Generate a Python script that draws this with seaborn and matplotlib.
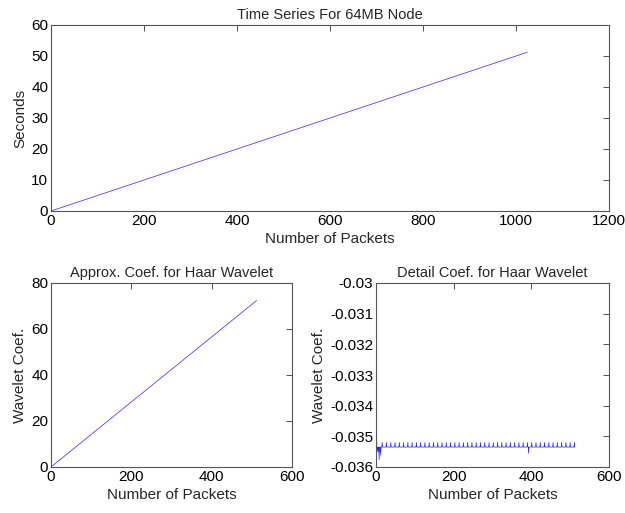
import numpy as np
import pandas as pd
import matplotlib
matplotlib.use("Agg")
import matplotlib.pyplot as plt
import seaborn as sns

# ---- data ----
time_x = [1, 1024]
time_y = [0.05, 51.2]

approx_x = [1, 512]
approx_y = [0.14, 72.4]

detail_n = 512
detail_base = -0.03535
detail_start = -0.0340
spike_x = [16, 27, 38, 49, 60, 71, 82, 93, 104, 115, 126, 137, 148, 159, 170,
           181, 192, 203, 214, 225, 236, 247, 258, 269, 280, 291, 302, 313, 324,
           335, 346, 357, 368, 379, 390, 401, 412, 423, 434, 445, 456, 467, 478,
           489, 500, 511]
spike_y = -0.03520
dip_x = [3, 5, 8, 10, 12, 393]
dip_y = [-0.03545, -0.03552, -0.03576, -0.03548, -0.03562, -0.03555]

titles = ["Time Series For 64MB Node", "Approx. Coef. for Haar Wavelet",
          "Detail Coef. for Haar Wavelet"]
xlabels = ["Number of Packets", "Number of Packets", "Number of Packets"]
ylabels = ["Seconds", "Wavelet Coef.", "Wavelet Coef."]

# ---- build detail series ----
special = {x: spike_y for x in spike_x}
for x, y in zip(dip_x, dip_y):
    special[x] = y
special[1] = detail_start
dx = list(range(1, detail_n + 1))
dy = [special.get(x, detail_base) for x in dx]

sns.set_style("white")
plt.rcParams['font.family'] = ['Liberation Sans', 'DejaVu Sans']

fig = plt.figure(figsize=(6.25, 5.13), dpi=100)
W, H = 625, 513
ax1 = fig.add_axes([51 / W, 1 - 211 / H, 558 / W, 186 / H])
ax2 = fig.add_axes([51 / W, 1 - 467 / H, 241 / W, 184 / H])
ax3 = fig.add_axes([376 / W, 1 - 467 / H, 233 / W, 184 / H])

line_kw = dict(color="#2828ff", linewidth=0.5)
sns.lineplot(x=time_x, y=time_y, ax=ax1, **line_kw)
sns.lineplot(x=approx_x, y=approx_y, ax=ax2, **line_kw)
sns.lineplot(x=dx, y=dy, ax=ax3, **line_kw)

ax1.set_xlim(0, 1200); ax1.set_ylim(0, 60)
ax1.set_xticks(range(0, 1201, 200)); ax1.set_yticks(range(0, 61, 10))
ax2.set_xlim(0, 600); ax2.set_ylim(0, 80)
ax2.set_xticks(range(0, 601, 200)); ax2.set_yticks(range(0, 81, 20))
ax3.set_xlim(0, 600); ax3.set_ylim(-0.036, -0.030)
ax3.set_xticks(range(0, 601, 200))
ax3.set_yticks([-0.036, -0.035, -0.034, -0.033, -0.032, -0.031, -0.030])
ax3.set_yticklabels(["-0.036", "-0.035", "-0.034", "-0.033", "-0.032", "-0.031", "-0.03"])

for ax, t, xl, yl in zip([ax1, ax2, ax3], titles, xlabels, ylabels):
    ax.set_title(t, fontsize=10.5, pad=4)
    ax.set_xlabel(xl, fontsize=11, labelpad=3)
    ax.set_ylabel(yl, fontsize=11, labelpad=3)
    ax.tick_params(direction="in", top=True, right=True, length=4, width=0.6,
                   labelsize=11, pad=2, colors="#333333", labelcolor="black")
    for s in ax.spines.values():
        s.set_visible(True)
        s.set_color("#555555")
        s.set_linewidth(0.8)

fig.savefig("out.png", dpi=100, facecolor="white")
